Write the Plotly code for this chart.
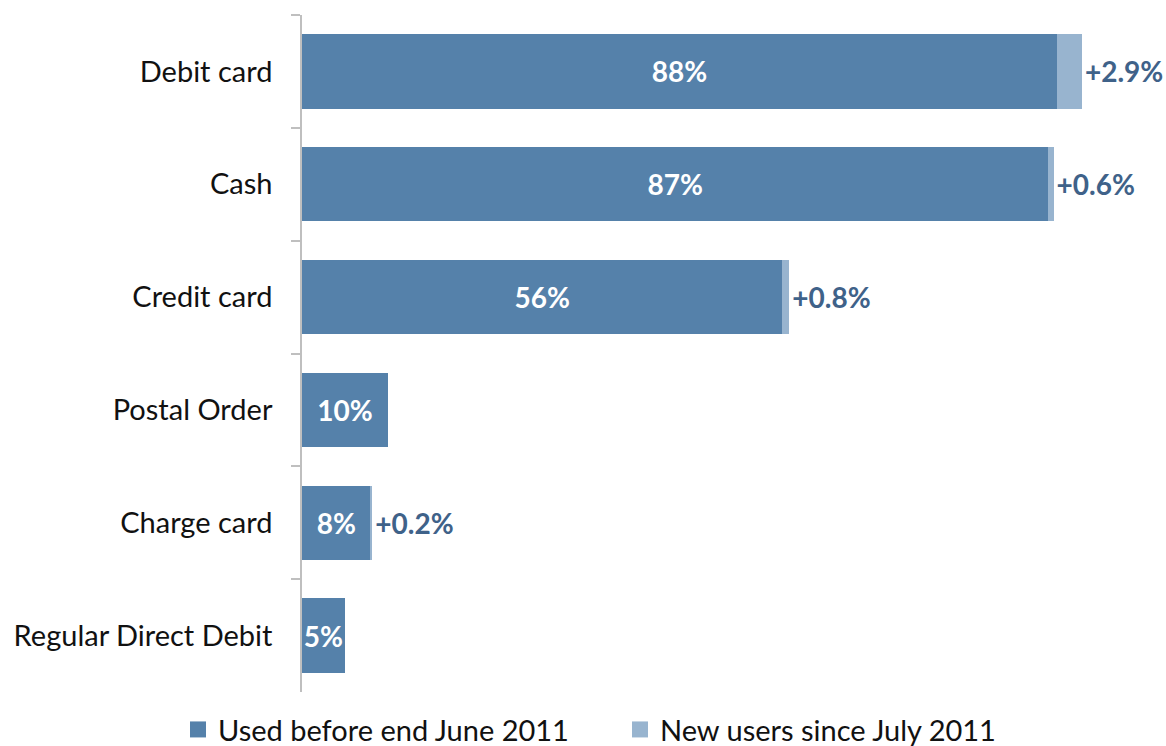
import plotly.graph_objects as go

categories = ["Debit card", "Cash", "Credit card", "Postal Order", "Charge card", "Regular Direct Debit"]
used_before = [88, 87, 56, 10, 8, 5]
new_users = [2.9, 0.6, 0.8, 0, 0.2, 0]
series_names = ["Used before end June 2011", "New users since July 2011"]

DARK = "#5581AA"
LIGHT = "#98B4CF"
LABEL = "#3F6289"
FONT = "Lato"

used_text = [f"{v:g}%" for v in used_before]
new_text = [f"+{v:g}%" if v > 0 else "" for v in new_users]

fig = go.Figure()
fig.add_trace(go.Bar(
    y=categories, x=used_before, orientation="h", name=series_names[0],
    marker=dict(color=DARK, line=dict(width=0)), width=0.66,
    text=used_text, textposition="inside", insidetextanchor="middle",
    constraintext="none", textangle=0,
    textfont=dict(family=FONT, size=28, color="white", weight="bold"),
    showlegend=False, hoverinfo="skip",
))
fig.add_trace(go.Bar(
    y=categories, x=new_users, orientation="h", name=series_names[1],
    marker=dict(color=LIGHT, line=dict(width=0)), width=0.66,
    text=new_text, textposition="outside", cliponaxis=False,
    constraintext="none", textangle=0,
    textfont=dict(family=FONT, size=28, color=LABEL, weight="bold"),
    showlegend=False, hoverinfo="skip",
))
# legend entries with square markers (one legend each, for exact placement)
for name, col, lg in zip(series_names, [DARK, LIGHT], ["legend", "legend2"]):
    fig.add_trace(go.Scatter(
        x=[None], y=[None], mode="markers", name=name,
        marker=dict(symbol="square", size=17, color=col),
        showlegend=True, legend=lg,
    ))

legend_common = dict(
    orientation="h", xanchor="left", xref="container",
    yref="container", y=0.022, yanchor="middle",
    font=dict(family=FONT, size=29, color="#111111"),
    bgcolor="rgba(0,0,0,0)",
)

fig.update_layout(
    barmode="stack",
    width=1166, height=746,
    margin=dict(l=302, r=6, t=15, b=54),
    paper_bgcolor="white", plot_bgcolor="white",
    font=dict(family=FONT, size=29, color="#111111"),
    xaxis=dict(range=[0, 100], visible=False, showgrid=False, zeroline=False),
    yaxis=dict(
        type="category", categoryorder="array", categoryarray=categories,
        autorange="reversed", tickson="boundaries", ticks="outside", ticklen=9,
        tickcolor="#BFBFBF", tickwidth=1.5, showline=True, linecolor="#BFBFBF",
        linewidth=1.5, showgrid=False, ticklabelstandoff=22,
        tickfont=dict(family=FONT, size=29, color="#111111"),
    ),
    legend=dict(x=178 / 1166, **legend_common),
    legend2=dict(x=620 / 1166, **legend_common),
)

fig.write_html("out.html")
